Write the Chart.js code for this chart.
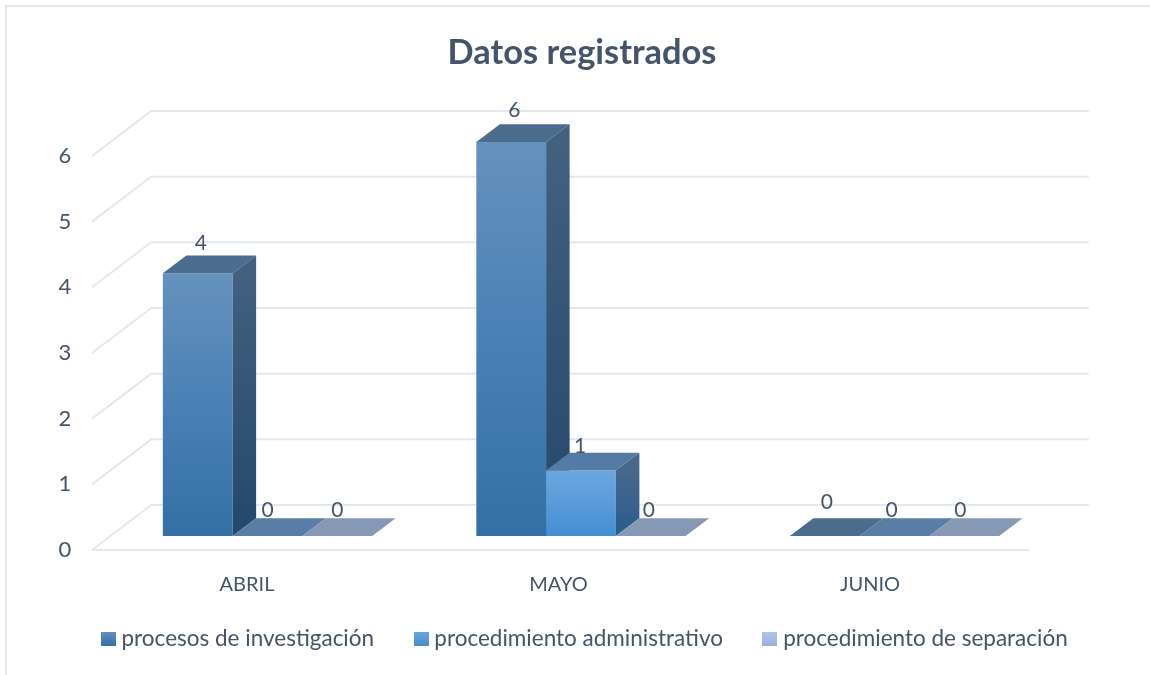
<!DOCTYPE html>
<html><head><meta charset="utf-8">
<style>html,body{margin:0;padding:0;background:#fff}#w{position:relative;width:1150px;height:675px}</style>
<script src="https://cdn.jsdelivr.net/npm/chart.js@4"></script>
</head><body><div id="w"><canvas id="c" width="1150" height="675"></canvas></div>
<script>
const categories = ['ABRIL','MAYO','JUNIO'];
const seriesNames = ['procesos de investigación','procedimiento administrativo','procedimiento de separación'];
const procesos = [4,6,0];
const administrativo = [0,1,0];
const separacion = [0,0,0];
const yTicks = [0,1,2,3,4,5,6];

const FONT = 'Lato';
const TEXT = '#44546a';
const GRID = '#e3e7ee';
const BAR_SHIFT = {x:20.5,y:-14};
const SPREAD = 2;
const WALL = {x:60,y:-45};
const DEPTH = {x:23.5,y:-17.7};
const looks = [
 {front:['#6592bd','#4a80b5','#3470a5'],side:['#43607f','#23486c'],top:'#4c6c8e',zero:'#4c6c8e'},
 {front:['#6ca6de','#5a9bda','#428ed2'],side:['#48678c','#285c8c'],top:'#557aa3',zero:'#587ea8'},
 {front:['#b0c6e6','#a4bde2','#96b2dc'],side:['#6e85a6','#5c7498'],top:'#8598b4',zero:'#8598b4'}
];
const labelNudge = [
 [{x:3,y:-30},{x:0,y:-26},{x:0,y:-26}],
 [{x:3,y:-32},{x:-1,y:-24},{x:-2,y:-26}],
 [{x:2,y:-34},{x:-3,y:-26},{x:-4,y:-26}]
];
const markers = looks.map(l=>{
  const m=document.createElement('canvas');m.width=15;m.height=14;
  const g=m.getContext('2d');const gr=g.createLinearGradient(0,0,0,14);
  l.front.forEach((c,i)=>gr.addColorStop(i/2,c));g.fillStyle=gr;g.fillRect(0,0,15,14);return m;
});
function frontFill(i){
  return ctx=>{
    const y=ctx.chart.scales.y;
    if(!y||!ctx.raw) return looks[i].zero;
    const a=y.getPixelForValue(ctx.raw),b=y.getPixelForValue(0);
    if(!isFinite(a)||!isFinite(b)) return looks[i].zero;
    const g=ctx.chart.ctx.createLinearGradient(0,a,0,b);
    looks[i].front.forEach((c,k)=>g.addColorStop(k/2,c));
    return g;
  };
}
function poly(c,pts,fill){c.beginPath();pts.forEach((p,i)=>i?c.lineTo(p[0],p[1]):c.moveTo(p[0],p[1]));c.closePath();c.fillStyle=fill;c.fill();}
const scene = {
  id:'scene',
  afterLayout(chart){
    chart.titleBlock.left+=7;chart.titleBlock.right+=7;
    const l=chart.legend;l.left+=12;l.right+=12;l.top-=15;l.bottom-=15;
  },
  beforeDraw(chart){
    const c=chart.ctx;c.save();c.strokeStyle=GRID;c.lineWidth=2;
    c.beginPath();c.moveTo(6,675);c.lineTo(6,6);c.lineTo(1150,6);c.stroke();c.restore();
  },
  beforeDatasetsDraw(chart){
    const c=chart.ctx,x=chart.scales.x,y=chart.scales.y;
    c.save();c.strokeStyle=GRID;c.lineWidth=2;
    yTicks.forEach(v=>{
      const py=y.getPixelForValue(v);
      c.beginPath();c.moveTo(x.left+0.75,py);c.lineTo(x.left+WALL.x,py+WALL.y);c.lineTo(x.right+WALL.x+3,py+WALL.y);c.stroke();
    });
    const p0=y.getPixelForValue(0);
    c.beginPath();c.moveTo(x.left+0.75,p0);c.lineTo(x.right+4,p0);c.stroke();
    c.translate(BAR_SHIFT.x,BAR_SHIFT.y);
    chart.data.datasets.forEach((d,i)=>{
      const meta=chart.getDatasetMeta(i);
      meta.data.forEach((b,k)=>{
        c.save();c.translate(k*SPREAD,0);
        b.draw(c);
        const L=b.x-b.width/2,R=b.x+b.width/2,T=b.y,B=b.base,dx=DEPTH.x,dy=DEPTH.y;
        poly(c,[[L,T],[R,T],[R+dx,T+dy],[L+dx,T+dy]],d.data[k]?looks[i].top:looks[i].zero);
        if(d.data[k]){
          const g=c.createLinearGradient(0,T,0,B);g.addColorStop(0,looks[i].side[0]);g.addColorStop(1,looks[i].side[1]);
          poly(c,[[R,T],[R+dx,T+dy],[R+dx,B+dy],[R,B]],g);
        }
        c.restore();
      });
    });
    chart.data.datasets.forEach((d,i)=>{
      chart.getDatasetMeta(i).data.forEach((b,k)=>{
        const n=labelNudge[k][i];
        c.fillStyle=TEXT;c.font='21px '+FONT;c.textAlign='center';c.textBaseline='middle';
        c.fillText(String(d.data[k]),b.x+n.x+k*SPREAD,b.y+n.y);
      });
    });
    c.restore();
    return false;
  }
};
new Chart(document.getElementById('c'),{
  type:'bar',
  data:{labels:categories,datasets:[
    {label:seriesNames[0],data:procesos,backgroundColor:frontFill(0)},
    {label:seriesNames[1],data:administrativo,backgroundColor:frontFill(1)},
    {label:seriesNames[2],data:separacion,backgroundColor:frontFill(2)}
  ]},
  options:{
    responsive:false,animation:false,
    layout:{padding:0},
    datasets:{bar:{categoryPercentage:0.672,barPercentage:1}},
    scales:{
      x:{grid:{display:false},border:{display:false},
         ticks:{color:TEXT,font:{family:FONT,size:20},padding:15,maxRotation:0},
         afterFit:s=>{s.height=125-(s.chart.legend?s.chart.legend.height:0);}},
      y:{min:0,max:6,grid:{display:false},border:{display:false},
         ticks:{stepSize:1,color:TEXT,font:{family:FONT,size:22},padding:12},
         afterFit:s=>{s.width=91.25;}},
      yR:{position:'right',min:0,max:6,grid:{display:false},border:{display:false},ticks:{display:false},
         afterFit:s=>{s.width=124.25;}}
    },
    plugins:{
      tooltip:{enabled:false},
      title:{display:true,text:'Datos registrados',color:TEXT,font:{family:FONT,size:34.4,weight:'bold',lineHeight:1.2},padding:{top:32,bottom:82.7}},
      legend:{position:'bottom',labels:{
        color:TEXT,font:{family:FONT,size:22.5},padding:45,usePointStyle:true,pointStyleWidth:4,boxHeight:14,
        generateLabels:ch=>Chart.defaults.plugins.legend.labels.generateLabels(ch).map((it,i)=>({...it,pointStyle:markers[i]}))
      }}
    }
  },
  plugins:[scene]
});
</script></body></html>
